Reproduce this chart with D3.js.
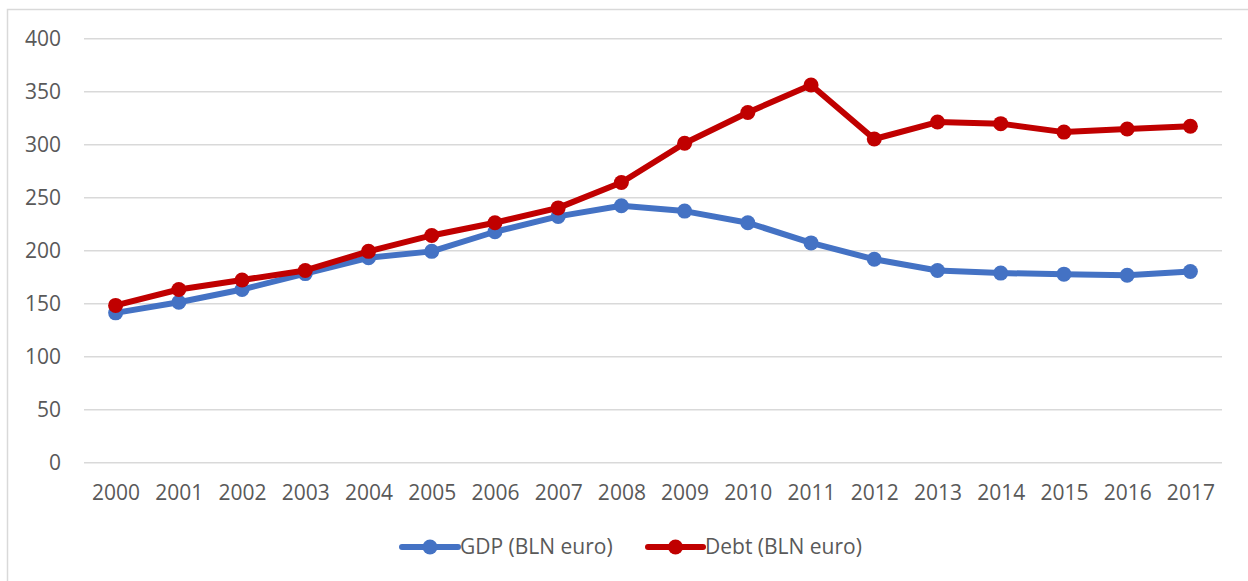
<!DOCTYPE html>
<html>
<head>
<meta charset="utf-8">
<script src="https://cdn.jsdelivr.net/npm/d3@7"></script>
<style>
  html, body { margin: 0; padding: 0; background: #fff; }
  svg { display: block; }
  text { font-family: "Open Sans", Lato, sans-serif; fill: #595959; }
</style>
</head>
<body>
<svg id="chart" width="1248" height="581"></svg>
<script>
const years = ["2000","2001","2002","2003","2004","2005","2006","2007","2008","2009","2010","2011","2012","2013","2014","2015","2016","2017"];
const gdp  = [141, 151, 163, 178, 193, 199, 217.5, 232, 242, 237, 226, 207, 191.5, 181, 178.5, 177.5, 176.5, 180];
const debt = [148, 163, 172, 181, 199, 214, 226, 240, 264, 301, 330, 356, 305, 321, 319.5, 311.5, 314.5, 317];
const yTicks = [0, 50, 100, 150, 200, 250, 300, 350, 400];
const seriesNames = ["GDP (BLN euro)", "Debt (BLN euro)"];
const seriesColors = ["#4472C4", "#C00000"];

const svg = d3.select("#chart");
const FONT = "'Open Sans', Lato, sans-serif";

// outer frame (bottom edge lies outside the picture)
svg.append("rect")
  .attr("x", 7.5).attr("y", 9.5)
  .attr("width", 1260).attr("height", 590)
  .attr("fill", "none").attr("stroke", "#D9D9D9").attr("stroke-width", 1.5);

const plotLeft = 84, plotRight = 1222, plotTop = 38.3, plotBottom = 462.3;

const x = d3.scalePoint().domain(years).range([plotLeft, plotRight]).padding(0.5);
const y = d3.scaleLinear().domain([0, 400]).range([plotBottom, plotTop]);

// gridlines + y labels
const yAxis = d3.axisLeft(y).tickValues(yTicks).tickSize(-(plotRight - plotLeft)).tickPadding(23).tickFormat(d3.format("d"));
const gy = svg.append("g").attr("transform", `translate(${plotLeft},0)`).call(yAxis);
gy.select(".domain").remove();
gy.selectAll(".tick line").attr("stroke", "#D9D9D9").attr("stroke-width", 1.5);
gy.selectAll(".tick text").attr("font-size", 21).attr("fill", "#595959").style("font-family", FONT);

// x labels
const xAxis = d3.axisBottom(x).tickSize(0).tickPadding(23);
const gx = svg.append("g").attr("transform", `translate(0,${plotBottom})`).call(xAxis);
gx.select(".domain").remove();
gx.selectAll(".tick text").attr("font-size", 21).attr("fill", "#595959").style("font-family", FONT);

// series
const allSeries = [gdp, debt];
const line = d3.line().x((d, i) => x(years[i])).y(d => y(d));
allSeries.forEach((vals, si) => {
  const g = svg.append("g");
  g.append("path").datum(vals)
    .attr("d", line)
    .attr("fill", "none")
    .attr("stroke", seriesColors[si])
    .attr("stroke-width", 6)
    .attr("stroke-linejoin", "round")
    .attr("stroke-linecap", "round");
  g.selectAll("circle").data(vals).enter().append("circle")
    .attr("cx", (d, i) => x(years[i]))
    .attr("cy", d => y(d))
    .attr("r", 7.5)
    .attr("fill", seriesColors[si]);
});

// legend
const legendY = 547;
const legendItems = [{x0: 402, x1: 458, tx: 460}, {x0: 648, x1: 703, tx: 705}];
legendItems.forEach((it, i) => {
  const g = svg.append("g");
  g.append("line")
    .attr("x1", it.x0).attr("x2", it.x1)
    .attr("y1", legendY).attr("y2", legendY)
    .attr("stroke", seriesColors[i]).attr("stroke-width", 6).attr("stroke-linecap", "round");
  g.append("circle")
    .attr("cx", (it.x0 + it.x1) / 2).attr("cy", legendY).attr("r", 7.5)
    .attr("fill", seriesColors[i]);
  g.append("text")
    .attr("x", it.tx).attr("y", legendY)
    .attr("dy", "0.35em")
    .attr("font-size", 21)
    .style("font-family", FONT)
    .text(seriesNames[i]);
});
</script>
</body>
</html>
